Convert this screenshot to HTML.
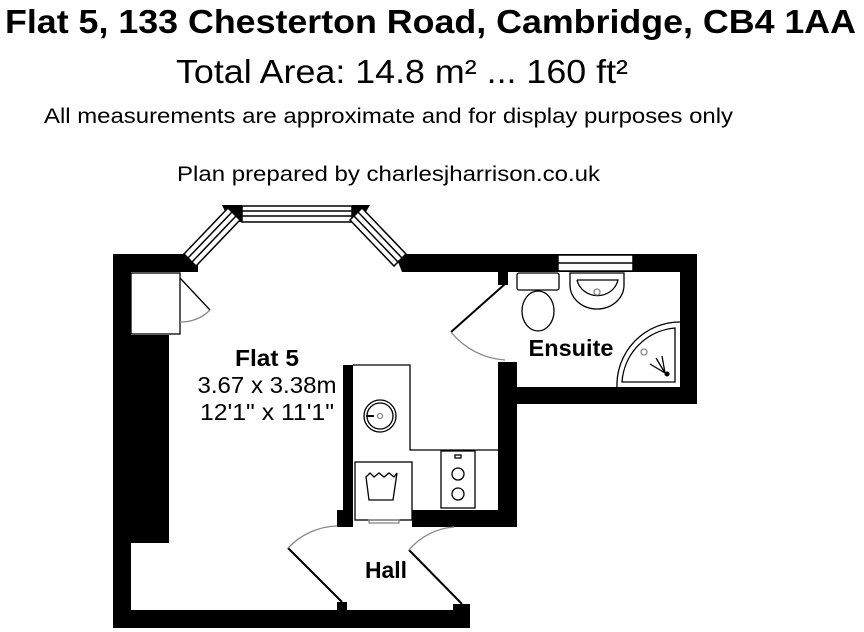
<!DOCTYPE html>
<html><head><meta charset="utf-8"><style>html,body{margin:0;padding:0;background:#fff}svg{display:block}</style></head>
<body>
<svg width="864" height="632" viewBox="0 0 864 632" xmlns="http://www.w3.org/2000/svg" font-family="Liberation Sans, sans-serif">
<rect width="864" height="632" fill="#fff"/>
<text x="5" y="33" font-size="33" font-weight="bold" textLength="851" lengthAdjust="spacingAndGlyphs">Flat 5, 133 Chesterton Road, Cambridge, CB4 1AA</text>
<text x="176" y="83" font-size="33" textLength="452" lengthAdjust="spacingAndGlyphs">Total Area: 14.8 m² ... 160 ft²</text>
<text x="44" y="123" font-size="21" textLength="689" lengthAdjust="spacingAndGlyphs">All measurements are approximate and for display purposes only</text>
<text x="177" y="181" font-size="21" textLength="423" lengthAdjust="spacingAndGlyphs">Plan prepared by charlesjharrison.co.uk</text>

<g fill="#000">
<rect x="113" y="254" width="18" height="374"/>
<rect x="113" y="254" width="72" height="18"/>
<rect x="113" y="610" width="357" height="18"/>
<rect x="403" y="254" width="294" height="18"/>
<rect x="680" y="254" width="17" height="150"/>
<rect x="498" y="387" width="199" height="17"/>
<rect x="498" y="362" width="19" height="165"/>
<rect x="498" y="272" width="10" height="13"/>
<rect x="412" y="510" width="105" height="17"/>
<rect x="337" y="510" width="16" height="17"/>
<rect x="343" y="365" width="10" height="162"/>
<rect x="337" y="602" width="10" height="10"/>
<rect x="453" y="604" width="17" height="8"/>
<rect x="131" y="335" width="38" height="208"/>
<polygon points="182,254 198,254 198,272 190,272 182,272"/>
<polygon points="222,205 242,205 242,222 230,222"/>
<polygon points="352,205 370,205 360,222 352,222"/>
<polygon points="395,254 412,254 412,272 402,272"/>
</g>
<g fill="#fff" stroke="#000" stroke-width="1.5">
<rect x="242" y="206" width="110" height="16"/>
<line x1="242" y1="211" x2="352" y2="211"/><line x1="242" y1="216" x2="352" y2="216"/>
<polygon points="184,254 228,208 240,220 196,266"/>
<line x1="188" y1="258" x2="232" y2="212"/><line x1="192" y1="262" x2="236" y2="216"/>
<polygon points="362,208 406,254 394,266 350,220"/>
<line x1="358" y1="212" x2="402" y2="258"/><line x1="354" y1="216" x2="398" y2="262"/>
<rect x="558" y="255" width="75" height="16"/>
<line x1="558" y1="263" x2="633" y2="263"/>
</g>
<g fill="none" stroke="#000" stroke-width="1.3">
<rect x="131" y="273" width="49" height="61"/>
<line x1="180" y1="278" x2="210" y2="310"/>
<path d="M210 310 A40 40 0 0 1 180 322" stroke="#888"/>
<line x1="505" y1="284" x2="451" y2="332" stroke-width="2"/>
<path d="M451 332 A75 75 0 0 0 505 360" stroke="#888"/>
<path d="M353 365 H410 V450 H498"/>
<circle cx="380" cy="416" r="16"/><circle cx="380" cy="416" r="13"/>
<circle cx="380" cy="416" r="2.5" stroke="#888"/>
<line x1="366" y1="416" x2="374" y2="416" stroke-width="2"/>
<rect x="355" y="462" width="57" height="58"/>
<path d="M366 477 l4 -4 l4 4 l5 -4 l5 4 l5 -4 l5 4 l3 -4 l-4 27 h-24 z"/>
<rect x="369" y="520" width="30" height="3" stroke="#888"/>
<rect x="441" y="451" width="34" height="57"/>
<circle cx="458" cy="474" r="6"/><circle cx="458" cy="494" r="6"/>
<rect x="455" y="455" width="6" height="3"/>
<line x1="342" y1="602" x2="288" y2="548" stroke-width="2"/>
<path d="M288 548 A70 70 0 0 1 337 526" stroke="#888"/>
<line x1="462" y1="604" x2="409" y2="550" stroke-width="2"/>
<path d="M409 550 A65 65 0 0 1 454 527" stroke="#888"/>
<rect x="517" y="273" width="42" height="17" rx="2"/>
<ellipse cx="538" cy="311" rx="16" ry="20"/>
<path d="M570 273 V285 A27 24 0 0 0 624 285 V273 Z"/>
<path d="M577 280 H618 A21 20 0 0 1 577 280"/>
<circle cx="597" cy="292" r="3" stroke="#888"/>
<path d="M617 387 A63 63 0 0 1 680 322"/>
<path d="M622 382 A58 58 0 0 1 675 328 V382 Z"/>
<circle cx="644" cy="352" r="3" stroke="#888"/>
<path d="M665 373 L650 364 M665 373 L656 358 M665 373 L662 356"/>
</g>
<circle cx="667" cy="374" r="2.5" fill="#000"/>
<g text-anchor="middle" font-size="23">
<text x="267" y="366" font-weight="bold" textLength="64" lengthAdjust="spacingAndGlyphs">Flat 5</text>
<text x="267" y="393" textLength="139" lengthAdjust="spacingAndGlyphs">3.67 x 3.38m</text>
<text x="267" y="420" textLength="134" lengthAdjust="spacingAndGlyphs">12'1" x 11'1"</text>
<text x="571" y="356" font-weight="bold" textLength="85" lengthAdjust="spacingAndGlyphs">Ensuite</text>
<text x="386" y="578" font-weight="bold" textLength="42" lengthAdjust="spacingAndGlyphs">Hall</text>
</g>
</svg>
</body></html>
